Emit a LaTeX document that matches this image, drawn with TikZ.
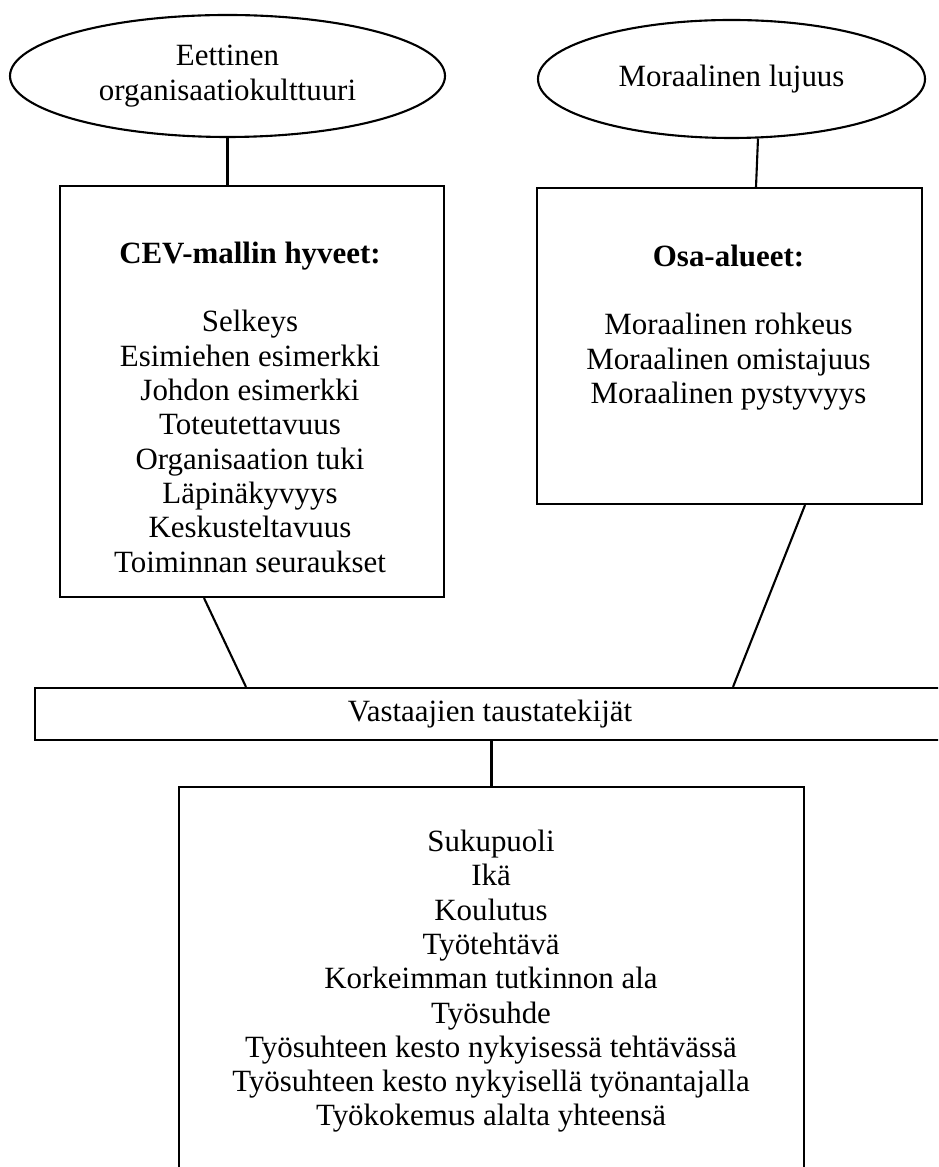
\documentclass[tikz,border=0pt]{standalone}
\usepackage{fontspec}
\setmainfont{Liberation Serif}
\usetikzlibrary{shapes.geometric}

\tikzset{
  oval/.style={draw, ellipse, inner sep=0pt, align=center},
  frame/.style={draw, rectangle, inner sep=0pt},
  itemlist/.style={anchor=north, inner sep=0pt, align=center},
}

\begin{document}
\begin{tikzpicture}[line width=0.6pt, font=\fontsize{8.8}{9.76}\selectfont]
\useasboundingbox (0,0) rectangle (9.38,-11.67);
\clip (0,0) rectangle (9.38,-11.67);
% ovals on top
\node[oval, minimum width=4.35cm, minimum height=1.22cm] (culture) at (2.275,-0.76) {Eettinen\\organisaatiokulttuuri};
\node[oval, minimum width=3.87cm, minimum height=1.18cm] (strength) at (7.315,-0.79) {Moraalinen lujuus};
% boxes
\node[frame, minimum width=3.84cm, minimum height=4.11cm] (virtues) at (2.52,-3.915) {};
\node[frame, minimum width=3.85cm, minimum height=3.16cm] (areas) at (7.295,-3.46) {};
\node[frame, minimum width=9.10cm, minimum height=0.52cm] (background) at (4.90,-7.14) {Vastaajien taustatekijät};
\node[frame, minimum width=6.25cm, minimum height=4.13cm] (factors) at (4.915,-9.935) {};
% box texts
\node[itemlist] (virtuelist) at (2.50,-2.41) {\textbf{CEV-mallin hyveet:}\\[9.7pt]
  Selkeys\\ Esimiehen esimerkki\\ Johdon esimerkki\\ Toteutettavuus\\
  Organisaation tuki\\ Läpinäkyvyys\\ Keskusteltavuus\\ Toiminnan seuraukset};
\node[itemlist] (arealist) at (7.285,-2.44) {\textbf{Osa-alueet:}\\[9.7pt]
  Moraalinen rohkeus\\ Moraalinen omistajuus\\ Moraalinen pystyvyys};
\node[itemlist] (factorlist) at (4.91,-8.29) {Sukupuoli\\ Ikä\\ Koulutus\\ Työtehtävä\\
  Korkeimman tutkinnon ala\\ Työsuhde\\ Työsuhteen kesto nykyisessä tehtävässä\\
  Työsuhteen kesto nykyisellä työnantajalla\\ Työkokemus alalta yhteensä};
% connectors
\draw (culture.south) -- (culture.south |- virtues.north);
\draw (strength.-66) -- ([xshift=2.65mm]areas.north);
\draw ([xshift=-4.8mm]virtues.south) -- ([xshift=-24.4mm]background.north);
\draw ([xshift=7.55mm]areas.south) -- ([xshift=24.3mm]background.north);
\draw (factors.north) -- (factors.north |- background.south);
\end{tikzpicture}
\end{document}
